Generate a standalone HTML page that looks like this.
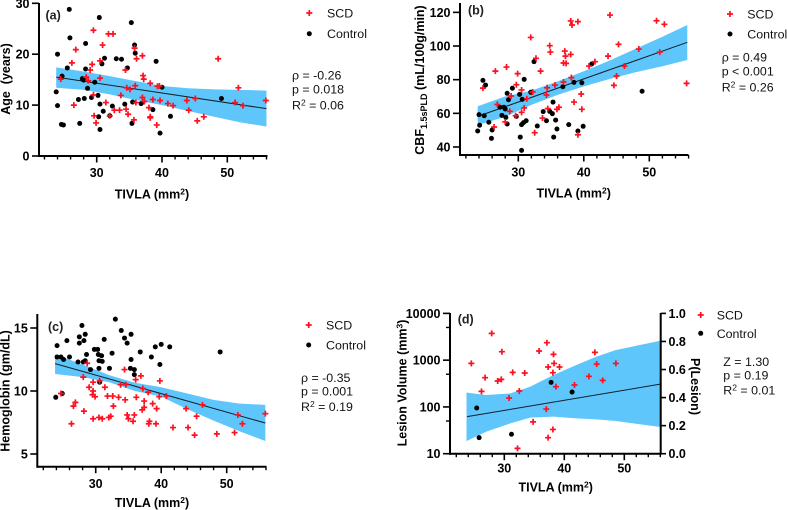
<!DOCTYPE html>
<html lang="en">
<head>
<meta charset="utf-8">
<title>TIVLA correlations</title>
<style>
html,body{margin:0;padding:0;background:#fff;width:787px;height:510px;overflow:hidden}
svg{display:block}
text{font-family:"Liberation Sans",sans-serif;fill:#000}
.b{font-weight:bold}
.tick{font-weight:bold;font-size:12.5px}
.title{font-weight:bold;font-size:12.5px}
.lab{font-weight:bold;font-size:12.5px;fill:#222}
.leg{font-size:12.4px;fill:#111}
</style>
</head>
<body>
<svg id="chart" xmlns="http://www.w3.org/2000/svg" width="787" height="510" viewBox="0 0 787 510">
  <rect width="787" height="510" fill="#fff"/>
  <g id="a"></g>
  <g id="b"></g>
  <g id="c"></g>
  <g id="d"></g>

  <text class="lab" x="45.5" y="19.5">(a)</text>
  <text class="title" x="152" y="198.5" text-anchor="middle">TIVLA (mm<tspan dy="-4" font-size="8.5">2</tspan><tspan dy="4">)</tspan></text>
  <text class="title" transform="translate(10,79) rotate(-90)" text-anchor="middle" xml:space="preserve">Age  (years)</text>
  <text class="leg" x="327" y="17.5">SCD</text>
  <text class="leg" x="327" y="38">Control</text>
  <text class="leg" x="292" y="79.5">ρ = -0.26</text>
  <text class="leg" x="292" y="93.5">p = 0.018</text>
  <text class="leg" x="292" y="109.5">R<tspan dy="-4" font-size="8.5">2</tspan><tspan dy="4"> = 0.06</tspan></text>

  <text class="lab" x="468" y="14.5">(b)</text>
  <text class="title" x="573.7" y="197.5" text-anchor="middle">TIVLA (mm<tspan dy="-4" font-size="8.5">2</tspan><tspan dy="4">)</tspan></text>
  <text class="title" transform="translate(424,80) rotate(-90)" text-anchor="middle">CBF<tspan dy="3" font-size="9">1.5sPLD</tspan><tspan dy="-3"> (mL/100g/min)</tspan></text>
  <text class="leg" x="747.3" y="18.5">SCD</text>
  <text class="leg" x="747.3" y="38.5">Control</text>
  <text class="leg" x="721.7" y="61.5">ρ = 0.49</text>
  <text class="leg" x="721.7" y="75.5">p &lt; 0.001</text>
  <text class="leg" x="721.7" y="91.5">R<tspan dy="-4" font-size="8.5">2</tspan><tspan dy="4"> = 0.26</tspan></text>

  <text class="lab" x="48" y="331">(c)</text>
  <text class="title" x="152" y="507" text-anchor="middle">TIVLA (mm<tspan dy="-4" font-size="8.5">2</tspan><tspan dy="4">)</tspan></text>
  <text class="title" transform="translate(9.5,391) rotate(-90)" text-anchor="middle" font-size="12.2">Hemoglobin (gm/dL)</text>
  <text class="leg" x="326" y="329.5">SCD</text>
  <text class="leg" x="326" y="349.5">Control</text>
  <text class="leg" x="301" y="382">ρ = -0.35</text>
  <text class="leg" x="301" y="395.5">p = 0.001</text>
  <text class="leg" x="301" y="411">R<tspan dy="-4" font-size="8.5">2</tspan><tspan dy="4"> = 0.19</tspan></text>

  <text class="lab" x="457.7" y="323.5">(d)</text>
  <text class="title" x="555.7" y="491.5" text-anchor="middle">TIVLA (mm<tspan dy="-4" font-size="8.5">2</tspan><tspan dy="4">)</tspan></text>
  <text class="title" transform="translate(406.5,383) rotate(-90)" text-anchor="middle">Lesion Volume (mm<tspan dy="-4" font-size="8.5">3</tspan><tspan dy="4">)</tspan></text>
  <text class="title" transform="translate(691,386.5) rotate(90)" text-anchor="middle">P(Lesion)</text>
  <text class="leg" x="716.7" y="319.5">SCD</text>
  <text class="leg" x="716.7" y="338">Control</text>
  <text class="leg" x="723.3" y="366">Z = 1.30</text>
  <text class="leg" x="723.3" y="379.5">p = 0.19</text>
  <text class="leg" x="723.3" y="394.5">R<tspan dy="-4" font-size="8.5">2</tspan><tspan dy="4"> = 0.01</tspan></text>
</svg>
<script>
// ---------- Panel (a): Age ----------
const aScdX = [24.5,26.2,26.8,26.5,28.4,29.0,29.3,28.7,29.5,29.5,29.6,29.9,30.5,30.9,30.5,31.4,31.8,32.5,32.0,32.7,33.5,33.7,34.5,34.4,34.6,34.8,35.1,35.8,35.9,35.7,36.1,36.0,37.0,37.1,37.2,37.0,37.3,38.2,38.0,38.2,38.2,38.6,39.3,39.2,39.7,39.6,40.9,41.7,43.8,44.1,45.1,45.4,46.4,48.6,51.2,51.7,52.4,55.9];
const aScdY = [15.1,18.3,20.9,10.0,15.5,16.9,18.0,14.8,12.0,24.7,7.9,6.5,18.7,21.8,15.3,10.5,24.0,24.0,7.9,9.0,9.0,11.9,9.2,16.9,13.4,8.2,13.1,21.2,13.8,7.1,19.1,10.5,19.7,15.8,15.1,11.5,10.7,14.3,9.5,7.7,7.5,11.1,13.7,6.1,10.9,13.75,10.3,9.9,10.9,9.0,11.3,6.9,7.7,19.1,10.5,13.4,9.9,10.9];
const aCtlX = [23.8,24.0,24.0,24.6,24.9,24.7,25.5,25.8,25.9,27.2,27.4,27.8,28.0,28.1,28.3,28.3,28.6,29.2,29.7,30.2,30.3,30.4,30.5,30.5,30.8,31.0,31.2,32.0,32.4,33.0,33.8,34.3,34.7,35.3,35.4,35.5,35.8,35.9,36.8,38.6,39.1,39.7,40.0,41.3,49.1];
const aCtlY = [12.6,9.9,20.0,6.2,6.1,15.7,17.3,28.8,23.2,11.1,6.4,15.2,14.9,11.3,22.1,17.1,13.3,11.5,14.5,11.9,7.7,27.2,5.2,10.2,18.1,8.8,19.2,7.9,9.8,19.1,19.0,10.2,17.3,26.2,6.4,10.6,21.8,20.2,10.3,9.1,18.6,4.5,13.5,7.8,11.3];
const aFitX = [23.8,56];
const aFitY = [15.5,9.3];
const aBandX = [23.8,28,32,36,40,44,48,52,56];
const aBandHi = [17.4,16.6,15.7,14.7,13.75,13.3,13.1,13.0,12.85];
const aBandLo = [13.4,13.0,12.1,11.0,10.0,8.85,7.7,6.6,5.8];
const aYTicks = [0,10,20,30];

// ---------- Panel (b): CBF ----------
const bScdX = [24.6,26.3,26.5,26.8,28.0,28.2,28.7,28.9,29.6,29.7,29.9,30.5,30.5,30.9,31.3,31.9,32.2,32.5,32.7,33.4,33.7,34.4,34.3,34.5,34.8,34.9,35.6,35.9,36.2,36.9,36.9,37.3,37.1,37.2,38.0,38.0,38.2,38.1,38.5,39.1,39.6,39.7,39.1,40.8,41.7,43.7,44.0,44.6,45.0,45.3,46.2,48.4,51.1,51.6,52.3,55.7];
const bScdY = [75,51.9,85.1,65.3,54.9,87.5,61.2,70.3,58.6,77,83.6,73.9,60.6,63.2,68.7,105.1,72.7,48.5,92.7,85.1,57.2,75.2,70.9,62.8,100.2,96.4,76.8,62.4,63.6,78.6,89.9,89.7,97,94,95,114.9,112.5,81.2,66.7,114.5,71.5,62.4,47.3,88.1,90.7,94,118.4,76.6,82.2,101,88.1,98.2,115,96.4,112.9,77.8];
const bCtlX = [23.8,24.0,24.1,24.6,24.8,25.0,25.5,25.9,26.0,27.2,27.5,27.8,28.0,28.1,28.3,28.3,28.5,29.1,29.7,30.2,30.3,30.5,30.5,30.6,30.8,31.2,30.9,31.9,32.4,32.9,33.8,34.3,34.8,35.2,35.3,35.4,35.7,35.9,36.8,37.7,38.5,39.1,39.7,39.9,41.2,48.9];
const bCtlY = [49.5,59.2,52.9,79.6,58.6,76.8,54.7,45.1,50.1,63.6,58.8,63.6,62.6,57.6,53.7,71.9,68.1,74.9,58.2,71.3,45.9,38,53.3,68.3,54.5,55.6,80.2,72.5,90.7,52.5,61,55.6,61.2,59.8,66.7,45.9,56,50.7,75.8,53.3,78.4,49.5,78.2,52.3,89.3,73.1];
const bFitX = [23.8,55.8];
const bFitY = [58.2,102.2];
const bBandX = [23.8,28,32,36,40,44,48,52,55.8];
const bBandHi = [64.2,70,73.5,79,85,91.5,98.5,105.5,112.5];
const bBandLo = [53,58,65,71,76,80.5,84.5,88,91.7];
const bYTicks = [40,60,80,100,120];

// ---------- Panel (c): Hemoglobin ----------
const cScdX = [24.7,26.3,26.6,26.9,28.1,28.2,28.7,29.0,29.6,29.6,29.5,29.6,29.9,30.5,30.6,31.0,31.4,31.8,32.0,32.3,32.6,32.7,33.5,33.8,34.4,34.5,34.6,34.8,35.0,35.7,35.9,36.1,36.2,36.9,37.1,37.2,37.4,37.4,38.0,38.1,38.2,38.7,39.2,39.3,39.7,39.8,40.8,41.8,43.8,44.1,45.1,45.4,46.3,48.5,51.2,51.7,52.4,55.9];
const cScdY = [9.8,7.4,8.8,9.1,11.1,8.4,12.2,10.3,10.7,10,9.7,7.8,9.55,7.9,10.8,7.8,10.3,9.6,7.9,8,9.6,8.8,9.5,10.5,11.7,9.3,10.5,8.1,7.8,7.6,8.1,10.9,9.5,11.2,8.5,10.2,9.2,8.7,9.9,7.4,7.6,9,7.4,8.6,9.55,10.8,9.6,7.1,8.6,7.1,6.5,8,8.9,6.6,6.7,8.1,7.4,8.2];
const cCtlX = [23.9,24.1,24.1,24.7,24.9,25.1,25.6,26.0,27.3,27.5,27.5,27.9,28.2,28.1,28.4,28.4,28.6,29.2,29.8,30.3,30.4,30.9,30.5,31.0,30.5,30.6,31.3,32.1,32.5,33.0,33.9,34.4,34.8,35.4,35.4,35.3,35.9,35.9,36.8,38.5,39.1,40.0,39.8,41.3,49.0];
const cCtlY = [9.5,13.6,12.7,12.7,9.8,12.5,14,12.7,12.3,14.3,13.8,15.2,14,12.3,14.5,12.4,12.9,11.7,13.3,13.3,12.9,12.8,12.4,12.35,11.8,10.7,14.1,11.8,13,15.7,14.8,14.2,13.8,14.5,12.5,11.8,11.7,11.3,13.1,12.7,13.5,13.7,12.1,13.5,13.1];
const cFitX = [23.8,55.9];
const cFitY = [12.17,7.46];
const cBandX = [23.8,28,32,36,40,44,48,52,55.9];
const cBandHi = [12.9,12.1,11.27,10.65,10.3,9.8,9.3,9.0,8.9];
const cBandLo = [11.35,11.1,10.7,10.0,9.55,8.55,7.65,6.8,6.03];
const cYTicks = [5,10,15];

// ---------- Panel (d): Lesion volume / P(lesion) ----------
const dScdX = [24.5,26.2,26.8,27.9,28.9,29.5,29.6,30.8,31.4,32.2,32.5,33.4,34.8,35.8,37.0,37.1,37.3,37.3,38.1,38.2,38.3,38.1,38.6,39.2,41.7,44.1,45.1,45.4,46.4,48.6];
const dScdY = [855,215,422,3741,358,388,1517,155,548,13,219,531,48,1567,90,2363,713,22,33,1330,851,540,271,713,294,451,1468,826,370,851];
const dCtlX = [25.4,25.8,31.2,37.8,41.3];
const dCtlY = [95,22,26,335,208];
const dFitX = [23.8,56];
const dFitP = [0.264,0.496];
const dBandX = [23.7,27,31,34.3,38.2,42,45.3,48.6,56];
const dBandHi = [0.435,0.418,0.43,0.477,0.561,0.632,0.691,0.739,0.805];
const dBandLo = [0.09,0.157,0.216,0.257,0.264,0.252,0.245,0.233,0.19];
const dYTicks = [10,100,1000,10000];
const dYMinor = [50,500,5000];
const dPTicks = [0,0.2,0.4,0.6,0.8,1];

// ---------- Shared x axis ----------
const xTicks = [30,40,50];
const xMinor = [22,24,26,28,32,34,36,38,42,44,46,48,52,54,56];

const NS = 'http://www.w3.org/2000/svg';
const BAND = '#5fc6fb';

function make(parent, tag, props) {
  const el = document.createElementNS(NS, tag);
  for (const k in props) el.setAttribute(k, props[k]);
  parent.appendChild(el);
  return el;
}
function line(parent, x1, y1, x2, y2, w, name) {
  const el = make(parent, 'line', {x1, y1, x2, y2, stroke: '#000', 'stroke-width': w});
  
  
  return el;
}
function label(parent, x, y, str, anchor, name) {
  const el = make(parent, 'text', {x, y, 'text-anchor': anchor, class: 'tick'});
  el.textContent = str;
  
  
  return el;
}
function plus(parent, px, py, name) {
  const el = make(parent, 'path', {
    d: 'M' + (px - 3) + ' ' + py + 'H' + (px + 3) + 'M' + px + ' ' + (py - 3) + 'V' + (py + 3),
    stroke: '#ff1020', 'stroke-width': 1.7, fill: 'none'
  });
  
  
  return el;
}
function dot(parent, px, py, name) {
  const el = make(parent, 'circle', {cx: px, cy: py, r: 2.5, fill: '#000'});
  
  
  return el;
}
function band(parent, xs, hi, lo, sx, sy) {
  const pts = [];
  xs.forEach((v, i) => pts.push(sx(v) + ',' + sy(hi[i])));
  for (let i = xs.length - 1; i >= 0; i--) pts.push(sx(xs[i]) + ',' + sy(lo[i]));
  const el = make(parent, 'polygon', {points: pts.join(' '), fill: BAND});
  
  
  return el;
}
function fit(parent, xs, ys, sx, sy) {
  const el = make(parent, 'line', {
    x1: sx(xs[0]), y1: sy(ys[0]), x2: sx(xs[1]), y2: sy(ys[1]),
    stroke: '#10202a', 'stroke-width': 1
  });
  
  
  return el;
}
function xAxis(g, sx, left, right, bottom, labelY) {
  line(g, left, bottom, right, bottom, 2, 'x-axis-line');
  xTicks.forEach(v => {
    line(g, sx(v), bottom, sx(v), bottom + 6.5, 1.6, 'x-axis-major-tick');
    label(g, sx(v), labelY, String(v), 'middle', 'x-axis-tick-label');
  });
  xMinor.forEach(v => line(g, sx(v), bottom, sx(v), bottom + 3.5, 1.4, 'x-axis-minor-tick'));
}
function yAxis(g, sy, ticks, axisX, top, bottom, fmt) {
  line(g, axisX, top, axisX, bottom + 1, 2, 'y-axis-line');
  ticks.forEach(v => {
    line(g, axisX - 7, sy(v), axisX, sy(v), 1.6, 'y-axis-tick');
    label(g, axisX - 9.5, sy(v) + 4.5, fmt ? fmt(v) : String(v), 'end', 'y-axis-tick-label');
  });
}
function scatter(g, cx, cy, sx_, sy_, fx, fy) {
  cx.forEach((v, i) => dot(g, fx(v), fy(cy[i]), 'control-point'));
  sx_.forEach((v, i) => plus(g, fx(v), fy(sy_[i]), 'scd-point'));
}
function legend(g, px, y1, y2) {
  plus(g, px, y1, 'legend-scd-marker');
  dot(g, px, y2, 'legend-control-marker');
}

// Panel a
(function () {
  const g = document.getElementById('a');
  const sx = v => 96.7 + (v - 30) * 6.53;
  const sy = v => 156 - v * 5.09;
  band(g, aBandX, aBandHi, aBandLo, sx, sy);
  fit(g, aFitX, aFitY, sx, sy);
  scatter(g, aCtlX, aCtlY, aScdX, aScdY, sx, sy);
  xAxis(g, sx, 38, 267.5, 156, 177);
  yAxis(g, sy, aYTicks, 39, 3, 156);
  legend(g, 309.3, 13, 33.7);
})();

// Panel b
(function () {
  const g = document.getElementById('b');
  const sx = v => 518.3 + (v - 30) * 6.55;
  const sy = v => 147 - (v - 40) * 1.683;
  band(g, bBandX, bBandHi, bBandLo, sx, sy);
  fit(g, bFitX, bFitY, sx, sy);
  scatter(g, bCtlX, bCtlY, bScdX, bScdY, sx, sy);
  xAxis(g, sx, 459, 688.5, 155, 176.5);
  yAxis(g, sy, bYTicks, 460, 3, 155);
  legend(g, 730, 14, 34);
})();

// Panel c
(function () {
  const g = document.getElementById('c');
  const sx = v => 95.7 + (v - 30) * 6.55;
  const sy = v => 391 - (v - 10) * 12.6;
  band(g, cBandX, cBandHi, cBandLo, sx, sy);
  fit(g, cFitX, cFitY, sx, sy);
  scatter(g, cCtlX, cCtlY, cScdX, cScdY, sx, sy);
  xAxis(g, sx, 36.5, 266.5, 466.7, 488);
  yAxis(g, sy, cYTicks, 37.3, 314, 466.7);
  legend(g, 308.7, 325, 345);
})();

// Panel d
(function () {
  const g = document.getElementById('d');
  const sx = v => 504.3 + (v - 30) * 6;
  const sy = v => 453.7 - (Math.log10(v) - 1) * 46.77;
  const sp = v => 453.7 - v * 140.3;
  band(g, dBandX, dBandHi, dBandLo, sx, sp);
  fit(g, dFitX, dFitP, sx, sp);
  scatter(g, dCtlX, dCtlY, dScdX, dScdY, sx, sy);
  xAxis(g, sx, 449, 660, 453.7, 472.5);
  yAxis(g, sy, dYTicks, 450, 313, 453.7);
  dYMinor.forEach(v => line(g, 446, sy(v), 450, sy(v), 1.4, 'y-axis-minor-tick'));
  line(g, 660.7, 313, 660.7, 454.7, 2, 'right-y-axis-line');
  dPTicks.forEach(v => {
    line(g, 660.7, sp(v), 666, sp(v), 1.6, 'right-y-axis-tick');
    label(g, 668.5, sp(v) + 4.5, v.toFixed(1), 'start', 'right-y-axis-tick-label');
  });
  legend(g, 700.7, 315, 333.3);
})();
</script>
</body>
</html>
